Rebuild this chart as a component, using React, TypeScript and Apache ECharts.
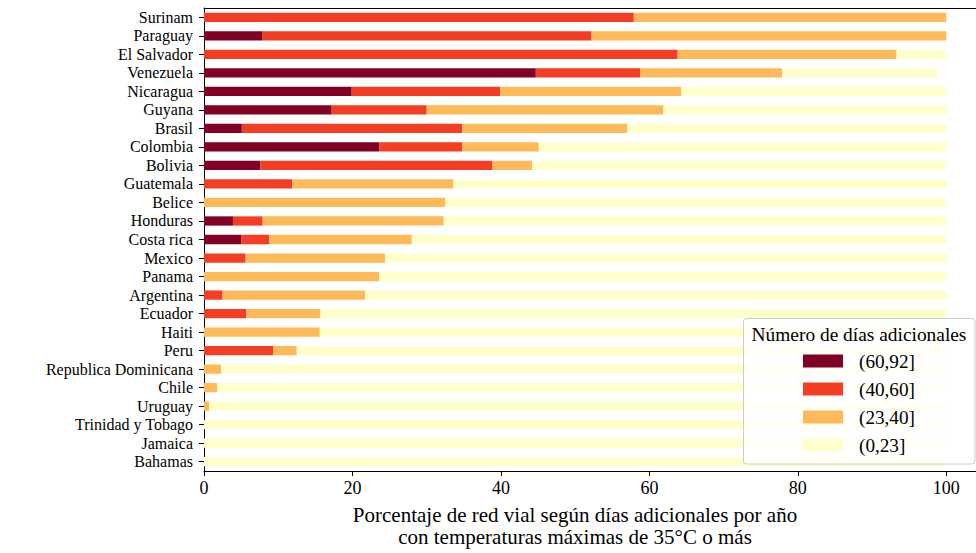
import React, { useEffect, useRef } from "react";
import * as echarts from "echarts";

const countries = [
  "Surinam", "Paraguay", "El Salvador", "Venezuela", "Nicaragua", "Guyana", "Brasil",
  "Colombia", "Bolivia", "Guatemala", "Belice", "Honduras", "Costa rica", "Mexico",
  "Panama", "Argentina", "Ecuador", "Haiti", "Peru", "Republica Dominicana", "Chile",
  "Uruguay", "Trinidad y Tobago", "Jamaica", "Bahamas",
];

const seriesNames = ["(60,92]", "(40,60]", "(23,40]", "(0,23]"];
const seriesColors = ["#800026", "#f43d25", "#feba58", "#ffffcc"];

const days60to92 = [0, 7.9, 0, 44.7, 19.9, 17.2, 5.1, 23.6, 7.6, 0, 0, 3.9, 5.0, 0, 0, 0, 0, 0, 0, 0, 0, 0, 0, 0, 0];
const days40to60 = [57.9, 44.3, 63.8, 14.1, 20.0, 12.8, 29.7, 11.2, 31.2, 11.9, 0, 4.0, 3.8, 5.6, 0, 2.5, 5.7, 0, 9.3, 0, 0, 0, 0, 0, 0];
const days23to40 = [42.1, 47.8, 29.5, 19.1, 24.4, 31.9, 22.2, 10.3, 5.4, 21.7, 32.5, 24.4, 19.2, 18.8, 23.6, 19.2, 10.0, 15.6, 3.2, 2.3, 1.8, 0.7, 0, 0, 0];
const days0to23 = [0, 0, 6.7, 20.9, 35.7, 38.1, 43.0, 54.9, 55.8, 66.4, 67.5, 67.7, 72.0, 75.6, 76.4, 78.3, 84.3, 84.4, 87.5, 97.7, 98.2, 99.3, 100, 100, 100];

const xTicks = [0, 20, 40, 60, 80, 100];

const FONT = "'Liberation Serif', 'DejaVu Serif', 'Times New Roman', serif";

export default function App() {
  const ref = useRef<HTMLDivElement>(null);

  useEffect(() => {
    if (!ref.current) return;
    const chart = echarts.init(ref.current, null, { renderer: "svg" });
    const values = [days60to92, days40to60, days23to40, days0to23];
    const option: any = {
      animation: false,
      backgroundColor: "#ffffff",
      textStyle: { fontFamily: FONT },
      grid: { left: 204, top: 8, width: 775, height: 466, containLabel: false },
      xAxis: [
        {
          type: "value",
          position: "bottom",
          min: xTicks[0],
          max: 104,
          interval: 20,
          splitLine: { show: false },
          axisLine: { show: true, lineStyle: { color: "#000", width: 1 } },
          axisTick: { show: true, length: 5, lineStyle: { color: "#000" } },
          axisLabel: {
            color: "#000",
            fontFamily: FONT,
            fontSize: 18,
            margin: 8,
            showMaxLabel: false,
            formatter: (v: number) => (xTicks.includes(v) ? String(v) : ""),
          },
          name: "Porcentaje de red vial según días adicionales por año\ncon temperaturas máximas de 35°C o más",
          nameLocation: "middle",
          nameGap: 33,
          nameTextStyle: {
            color: "#000",
            fontFamily: FONT,
            fontSize: 21,
            lineHeight: 22,
            padding: [0, 30, 0, 0],
          },
        },
        {
          type: "value",
          position: "top",
          min: 0,
          max: 104,
          splitLine: { show: false },
          axisLine: { show: true, lineStyle: { color: "#000", width: 1 } },
          axisTick: { show: false },
          axisLabel: { show: false },
        },
      ],
      yAxis: {
        type: "category",
        data: countries,
        inverse: true,
        axisLine: { show: true, lineStyle: { color: "#000", width: 1 } },
        axisTick: { show: true, alignWithLabel: true, interval: 0, length: 5, lineStyle: { color: "#000" } },
        axisLabel: { color: "#000", fontFamily: FONT, fontSize: 16, lineHeight: 17, margin: 11, interval: 0 },
        splitLine: { show: false },
      },
      legend: {
        orient: "vertical",
        left: 803,
        top: 351,
        padding: 0,
        itemWidth: 40,
        itemHeight: 13,
        itemGap: 8,
        icon: "rect",
        data: seriesNames,
        z: 6,
        textStyle: {
          color: "#000",
          fontFamily: FONT,
          fontSize: 19.2,
          lineHeight: 20,
          padding: [0, 0, 0, 11],
        },
      },
      graphic: [
        {
          type: "rect",
          z: 5,
          shape: { x: 743.5, y: 318.5, width: 231.5, height: 145.5, r: 3 },
          style: { fill: "rgba(255,255,255,0.8)", stroke: "#cccccc", lineWidth: 1 },
        },
        {
          type: "text",
          z: 7,
          x: 859,
          y: 334,
          style: {
            text: "Número de días adicionales",
            fill: "#000",
            font: `19.4px ${FONT}`,
            align: "center",
            verticalAlign: "middle",
          },
        },
      ],
      series: seriesNames.map((name, i) => ({
        name,
        type: "bar",
        stack: "total",
        xAxisIndex: 0,
        barWidth: "50%",
        itemStyle: { color: seriesColors[i] },
        emphasis: { disabled: true },
        data: values[i],
      })),
    };
    chart.setOption(option);
    return () => chart.dispose();
  }, []);

  return <div ref={ref} style={{ width: 976, height: 553, position: "absolute", left: 0, top: 0 }} />;
}
